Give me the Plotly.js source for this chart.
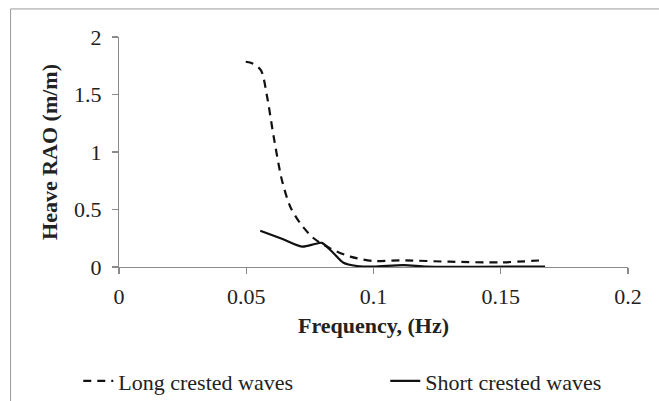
<!DOCTYPE html>
<html>
<head>
<meta charset="utf-8">
<script src="https://cdn.plot.ly/plotly-3.0.1.min.js"></script>
<style>html,body{margin:0;padding:0;background:#fff;}#chart{width:659px;height:401px;}</style>
</head>
<body>
<div id="chart"></div>
<script>
const longFreq = [0.0498, 0.0525, 0.0558, 0.0582, 0.0608, 0.0640, 0.0673, 0.0712, 0.0765, 0.0830, 0.0909, 0.1000, 0.1105, 0.1300, 0.1497, 0.1674];
const longRAO  = [1.785, 1.77, 1.71, 1.48, 1.13, 0.757, 0.524, 0.38, 0.25, 0.162, 0.09, 0.052, 0.058, 0.046, 0.040, 0.060];
const shortFreq = [0.0555, 0.0640, 0.0719, 0.0770, 0.0797, 0.0843, 0.0882, 0.0935, 0.1000, 0.1118, 0.1210, 0.1400, 0.1674];
const shortRAO  = [0.316, 0.245, 0.177, 0.200, 0.210, 0.120, 0.037, 0.009, 0.003, 0.017, 0.003, 0.002, 0.003];
const xTicks = [0, 0.05, 0.1, 0.15, 0.2];
const xTickText = ["0", "0.05", "0.1", "0.15", "0.2"];
const yTicks = [0, 0.5, 1, 1.5, 2];
const yTickText = ["0", "0.5", "1", "1.5", "2"];
const seriesNames = ["Long crested waves", "Short crested waves"];

const serif = "'Liberation Serif', 'Times New Roman', serif";
const traces = [
  {x: longFreq, y: longRAO, name: seriesNames[0], mode: "lines",
   line: {color: "#111", width: 2.2, dash: "8px,6px", shape: "spline", smoothing: 0.8}},
  {x: shortFreq, y: shortRAO, name: seriesNames[1], mode: "lines",
   line: {color: "#111", width: 2.2, shape: "spline", smoothing: 0.8}}
];
const axisCommon = {
  showgrid: false, zeroline: false, showline: true, linecolor: "#8a8a8a", linewidth: 1.2,
  ticks: "outside", tickcolor: "#8a8a8a", ticklen: 6, tickwidth: 1.2,
  tickfont: {family: serif, size: 22, color: "#222"}, automargin: false
};
const layout = {
  width: 659, height: 401,
  margin: {l: 118.5, r: 31, t: 37, b: 134, autoexpand: false},
  paper_bgcolor: "#fff", plot_bgcolor: "#fff",
  showlegend: true,
  legend: {orientation: "h", x: -0.08, xanchor: "left", y: -0.405, yanchor: "top",
           font: {family: serif, size: 22, color: "#222"}, itemwidth: 30,
           entrywidth: 262, entrywidthmode: "pixels"},
  xaxis: Object.assign({}, axisCommon, {range: [0, 0.2], tickvals: xTicks, ticktext: xTickText,
    ticklabelstandoff: 3,
    title: {text: "<b>Frequency, (Hz)</b>", font: {family: serif, size: 22, color: "#222"}, standoff: 10}}),
  yaxis: Object.assign({}, axisCommon, {range: [0, 2], tickvals: yTicks, ticktext: yTickText,
    ticklabelstandoff: 6,
    title: {text: "<b>Heave RAO (m/m)</b>", font: {family: serif, size: 22, color: "#222"}, standoff: 10}}),
  shapes: [{type: "rect", xref: "paper", yref: "paper", x0: -0.213, x1: 2, y0: -2, y1: 1.122,
            line: {color: "#9a9a9a", width: 1}}]
};
Plotly.newPlot("chart", traces, layout, {displayModeBar: false, staticPlot: true});
</script>
</body>
</html>
